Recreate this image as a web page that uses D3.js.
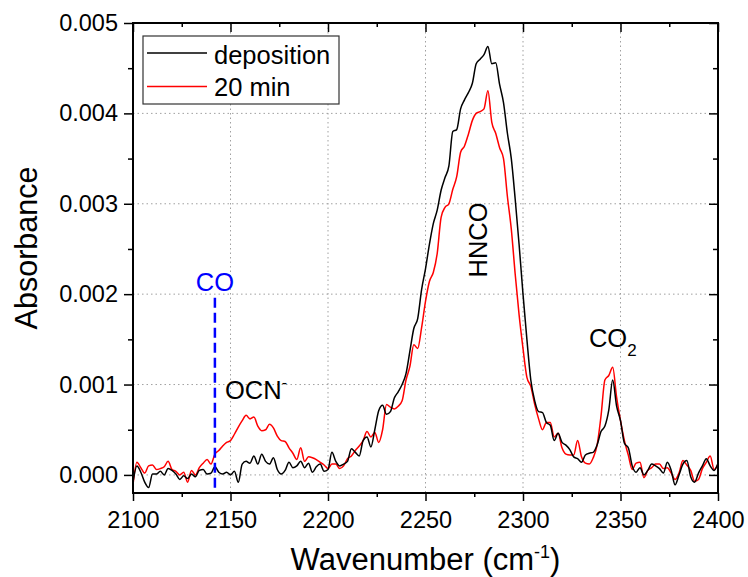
<!DOCTYPE html>
<html>
<head>
<meta charset="utf-8">
<script src="https://cdn.jsdelivr.net/npm/d3@7"></script>
<style>
  body { margin: 0; background: #fff; }
  text { font-family: "Liberation Sans", Arial, sans-serif; fill: #000; }
</style>
</head>
<body>
<div id="chart"></div>
<script>
// Spectra, sampled every 2 cm-1 from 2100 to 2400 (absorbance in units of 1e-3)
const wavenumbers = d3.range(2100, 2401, 2);

const deposition = [
  -0.08, 0.10, 0.03, -0.08, -0.14, 0.01, 0.01, 0.04, 0.00, 0.07,
  0.05, 0.01, -0.05, -0.01, -0.04, 0.01, -0.02, 0.05, 0.06, 0.01,
  0.02, 0.09, 0.03, 0.01, 0.03, 0.00, 0.04, -0.08, 0.12, 0.15,
  0.13, 0.21, 0.12, 0.23, 0.15, 0.12, 0.19, 0.06, 0.01, 0.05,
  0.14, 0.08, 0.10, 0.15, 0.08, 0.13, 0.03, 0.09, 0.12, 0.04,
  0.06, 0.25, 0.15, 0.10, 0.12, 0.15, 0.29, 0.25, 0.21, 0.38,
  0.42, 0.31, 0.50, 0.71, 0.77, 0.67, 0.70, 0.85, 0.92, 1.00,
  1.12, 1.37, 1.62, 1.73, 2.05, 2.28, 2.55, 2.78, 2.93, 3.15,
  3.29, 3.42, 3.80, 3.82, 4.05, 4.15, 4.23, 4.33, 4.55, 4.60,
  4.65, 4.74, 4.55, 4.56, 4.32, 4.12, 3.78, 3.50, 3.05, 2.55,
  2.00, 1.50, 1.05, 0.82, 0.70, 0.69, 0.58, 0.55, 0.38, 0.46,
  0.36, 0.33, 0.28, 0.20, 0.18, 0.14, 0.22, 0.24, 0.25, 0.33,
  0.48, 0.54, 0.72, 1.05, 0.76, 0.60, 0.35, 0.30, 0.10, 0.03,
  0.08, 0.00, 0.05, 0.12, 0.10, 0.07, 0.02, 0.14, 0.05, -0.11,
  0.00, 0.12, 0.16, -0.02, -0.08, 0.02, 0.10, 0.18, 0.10, 0.05,
  0.13
];

const after20min = [
  -0.11, 0.14, 0.08, 0.02, 0.10, 0.11, 0.06, 0.07, 0.09, 0.15,
  0.06, 0.04, 0.00, 0.03, -0.08, 0.05, 0.00, 0.08, 0.13, 0.17,
  0.12, 0.23, 0.27, 0.32, 0.36, 0.38, 0.45, 0.53, 0.60, 0.66,
  0.62, 0.64, 0.54, 0.49, 0.50, 0.56, 0.52, 0.43, 0.38, 0.37,
  0.30, 0.24, 0.17, 0.30, 0.15, 0.20, 0.19, 0.17, 0.14, 0.11,
  0.07, 0.12, 0.12, 0.07, 0.10, 0.18, 0.21, 0.27, 0.32, 0.38,
  0.48, 0.42, 0.47, 0.36, 0.50, 0.78, 0.75, 0.73, 0.76, 0.82,
  1.05, 1.20, 1.44, 1.40, 1.63, 1.92, 2.14, 2.24, 2.45, 2.85,
  2.96, 3.00, 3.16, 3.30, 3.57, 3.64, 3.77, 3.92, 4.00, 4.02,
  4.05, 4.25, 3.90, 3.78, 3.62, 3.50, 3.08, 2.72, 2.22, 1.77,
  1.40, 1.08, 0.98, 0.78, 0.62, 0.50, 0.58, 0.58, 0.42, 0.46,
  0.30, 0.23, 0.22, 0.22, 0.38, 0.20, 0.13, 0.12, 0.19, 0.33,
  0.65, 1.05, 1.10, 1.19, 0.86, 0.60, 0.38, 0.22, 0.06, 0.13,
  0.14, -0.03, 0.05, 0.08, 0.12, 0.12, 0.07, 0.08, 0.02, -0.05,
  0.02, 0.16, 0.11, 0.05, -0.07, -0.05, 0.07, 0.14, 0.21, 0.06,
  0.12
];

const seriesNames = ["deposition", "20 min"];
const seriesColors = ["#000000", "#ff0000"];

// Axis ticks
const xTicks = [2100, 2150, 2200, 2250, 2300, 2350, 2400];
const xMinor = [2125, 2175, 2225, 2275, 2325, 2375];
const yTicks = [0, 0.001, 0.002, 0.003, 0.004, 0.005];
const yMinor = [0.0005, 0.0015, 0.0025, 0.0035, 0.0045];
const xGrid = [2150, 2200, 2250, 2300, 2350];
const yGrid = [0, 0.001, 0.002, 0.003, 0.004];

// Dimensions and margins
const margin = { top: 23, right: 30, bottom: 84, left: 133 };
const width = 748 - margin.left - margin.right;
const height = 577 - margin.top - margin.bottom;

const svg = d3.select("#chart")
  .append("svg")
  .attr("width", width + margin.left + margin.right)
  .attr("height", height + margin.top + margin.bottom)
  .append("g")
  .attr("transform", `translate(${margin.left},${margin.top})`);

// Scales
const x = d3.scaleLinear().domain([2100, 2400]).range([0, width]);
const y = d3.scaleLinear().domain([-0.0002, 0.005]).range([height, 0]);

// Grid
svg.selectAll(".xgrid").data(xGrid).enter().append("line")
  .attr("x1", d => x(d)).attr("x2", d => x(d))
  .attr("y1", 0).attr("y2", height)
  .attr("stroke", "#a0a0a0").attr("stroke-width", 1)
  .attr("stroke-dasharray", "1.5,3");
svg.selectAll(".ygrid").data(yGrid).enter().append("line")
  .attr("x1", 0).attr("x2", width)
  .attr("y1", d => y(d)).attr("y2", d => y(d))
  .attr("stroke", "#a0a0a0").attr("stroke-width", 1)
  .attr("stroke-dasharray", "1.5,3");

// Lines
svg.append("clipPath").attr("id", "clip")
  .append("rect").attr("width", width).attr("height", height);

const series = [deposition, after20min].map((vals, i) => ({
  name: seriesNames[i],
  color: seriesColors[i],
  values: vals.map((v, j) => ({ wn: wavenumbers[j], a: v / 1000 }))
}));

const line = d3.line()
  .x(d => x(d.wn))
  .y(d => y(d.a))
  .curve(d3.curveMonotoneX);

// draw red first so black sits on top where they overlap
series.slice().reverse().forEach(s => {
  svg.append("path")
    .datum(s.values)
    .attr("clip-path", "url(#clip)")
    .attr("fill", "none")
    .attr("stroke", s.color)
    .attr("stroke-width", 1.5)
    .attr("stroke-linejoin", "round")
    .attr("d", line);
});

// CO marker
svg.append("line")
  .attr("x1", x(2142)).attr("x2", x(2142))
  .attr("y1", y(0.00196)).attr("y2", height)
  .attr("stroke", "#0000ff").attr("stroke-width", 2.5)
  .attr("stroke-dasharray", "10,5");

// Axes
function styleAxis(g) {
  g.select(".domain").remove();
  g.selectAll(".tick line").attr("stroke", "#000").attr("stroke-width", 1.5);
  g.selectAll(".tick text").attr("font-size", 23.5).attr("fill", "#000")
    .style("font-family", "'Liberation Sans', Arial, sans-serif");
}

svg.append("g").attr("transform", `translate(0,${height})`)
  .call(d3.axisBottom(x).tickValues(xTicks).tickSize(8).tickPadding(10).tickFormat(d3.format("d")))
  .call(styleAxis);
svg.append("g").attr("transform", `translate(0,${height})`)
  .call(d3.axisBottom(x).tickValues(xMinor).tickSize(4).tickFormat(""))
  .call(styleAxis);
svg.append("g")
  .call(d3.axisTop(x).tickValues(xTicks).tickSize(-9).tickFormat(""))
  .call(styleAxis);
svg.append("g")
  .call(d3.axisTop(x).tickValues(xMinor).tickSize(-4).tickFormat(""))
  .call(styleAxis);

svg.append("g")
  .call(d3.axisLeft(y).tickValues(yTicks).tickSize(9).tickPadding(6).tickFormat(d3.format(".3f")))
  .call(styleAxis);
svg.append("g")
  .call(d3.axisLeft(y).tickValues(yMinor).tickSize(5).tickFormat(""))
  .call(styleAxis);
svg.append("g").attr("transform", `translate(${width},0)`)
  .call(d3.axisRight(y).tickValues(yTicks).tickSize(-9).tickFormat(""))
  .call(styleAxis);
svg.append("g").attr("transform", `translate(${width},0)`)
  .call(d3.axisRight(y).tickValues(yMinor).tickSize(-5).tickFormat(""))
  .call(styleAxis);

// Frame
svg.append("rect")
  .attr("width", width).attr("height", height)
  .attr("fill", "none").attr("stroke", "#000").attr("stroke-width", 2);

// Axis labels
const xLabel = svg.append("text")
  .attr("text-anchor", "middle")
  .attr("x", width / 2)
  .attr("y", height + 77)
  .attr("font-size", 31);
xLabel.append("tspan").text("Wavenumber (cm");
xLabel.append("tspan").attr("font-size", 18).attr("dy", -12).text("-1");
xLabel.append("tspan").attr("dy", 12).text(")");

svg.append("text")
  .attr("text-anchor", "middle")
  .attr("transform", "rotate(-90)")
  .attr("x", -225)
  .attr("y", -96)
  .attr("font-size", 30.5)
  .text("Absorbance");

// Annotations
svg.append("text")
  .attr("x", x(2142)).attr("y", y(0.00203))
  .attr("text-anchor", "middle")
  .attr("font-size", 25.5)
  .style("fill", "#0000ff")
  .text("CO");

const ocn = svg.append("text")
  .attr("x", x(2147.2)).attr("y", y(0.00084))
  .attr("font-size", 25.5);
ocn.append("tspan").text("OCN");
ocn.append("tspan").attr("font-size", 16).attr("dy", -11).text("-");

svg.append("text")
  .attr("transform", `translate(${x(2277)},${y(0.0026)}) rotate(-90)`)
  .attr("text-anchor", "middle")
  .attr("dy", "0.35em")
  .attr("font-size", 25.5)
  .text("HNCO");

const co2 = svg.append("text")
  .attr("x", x(2333.8)).attr("y", y(0.00141))
  .attr("font-size", 25.5);
co2.append("tspan").text("CO");
co2.append("tspan").attr("font-size", 17).attr("dy", 9).text("2");

// Legend
const legend = svg.append("g").attr("transform", "translate(10,13)");
legend.append("rect")
  .attr("width", 196).attr("height", 68)
  .attr("fill", "#fff").attr("stroke", "#333").attr("stroke-width", 1.2);
series.forEach((s, i) => {
  legend.append("line")
    .attr("x1", 4).attr("x2", 64)
    .attr("y1", 17 + i * 33.5).attr("y2", 17 + i * 33.5)
    .attr("stroke", s.color).attr("stroke-width", 1.5);
  legend.append("text")
    .attr("x", 71).attr("y", 27.5 + i * 32)
    .attr("font-size", 25.5)
    .text(s.name);
});
</script>
</body>
</html>
